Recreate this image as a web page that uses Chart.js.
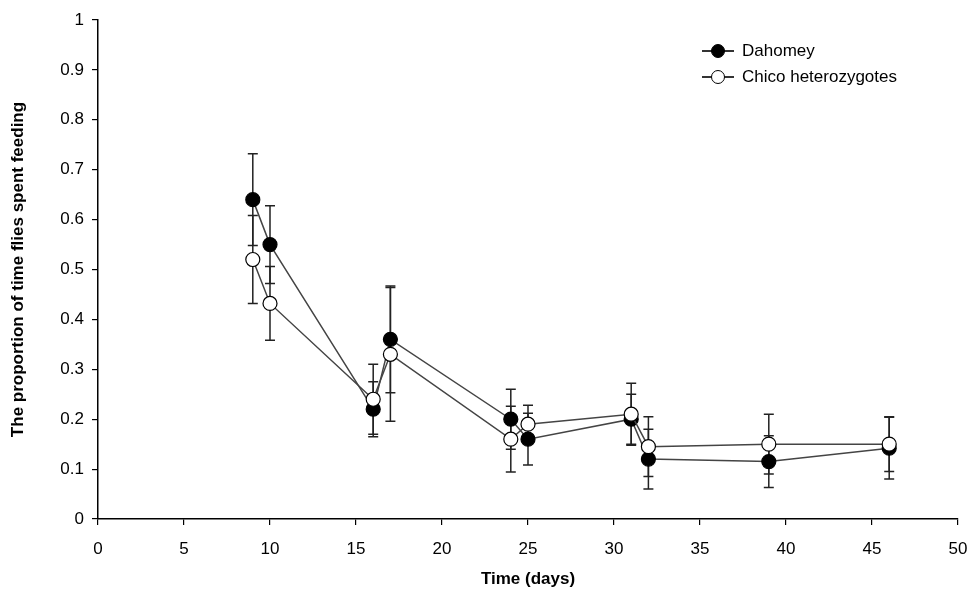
<!DOCTYPE html>
<html><head><meta charset="utf-8">
<script src="https://cdn.jsdelivr.net/npm/chart.js@4/dist/chart.umd.min.js"></script>
<style>
body{margin:0;background:#fff;font-family:Arial,"Liberation Sans",sans-serif}
#wrap{position:relative;width:967px;height:596px}
#legend{position:absolute;left:700px;top:38px;font-size:17px;color:#000;line-height:26px}
.row{display:flex;align-items:center}
.sym{position:relative;width:36px;height:20px;margin-right:6px}
.sym i{position:absolute;left:2px;right:2px;top:9px;height:1.5px;background:#333}
.sym b{position:absolute;left:11px;top:3px;width:12px;height:12px;border-radius:50%;border:1.3px solid #000}
</style></head><body>
<div id="wrap"><canvas id="c" width="967" height="596"></canvas>
<div id="legend">
<div class="row"><span class="sym"><i></i><b style="background:#000"></b></span>Dahomey</div>
<div class="row"><span class="sym"><i></i><b style="background:#fff"></b></span>Chico heterozygotes</div>
</div></div>
<script>
const days = [9, 10, 16, 17, 24, 25, 31, 32, 39, 46];
const dahomey = [0.64, 0.55, 0.22, 0.36, 0.20, 0.16, 0.20, 0.12, 0.115, 0.142];
const dahomeyErr = [0.092, 0.078, 0.055, 0.107, 0.06, 0.052, 0.05, 0.06, 0.052, 0.062];
const chico = [0.52, 0.432, 0.24, 0.33, 0.16, 0.19, 0.21, 0.145, 0.15, 0.15];
const chicoErr = [0.088, 0.074, 0.07, 0.134, 0.066, 0.038, 0.062, 0.06, 0.06, 0.055];

const errorBars = {
  id: 'errorBars',
  beforeDatasetsDraw(chart) {
    const {ctx, scales: {x, y}} = chart;
    const sets = [[dahomey, dahomeyErr], [chico, chicoErr]];
    ctx.save();
    ctx.strokeStyle = '#222';
    ctx.lineWidth = 1.5;
    sets.forEach(([vals, errs]) => {
      vals.forEach((v, i) => {
        const px = x.getPixelForValue(days[i]);
        const top = y.getPixelForValue(v + errs[i]);
        const bot = y.getPixelForValue(v - errs[i]);
        ctx.beginPath();
        ctx.moveTo(px, top); ctx.lineTo(px, bot);
        ctx.moveTo(px - 5, top); ctx.lineTo(px + 5, top);
        ctx.moveTo(px - 5, bot); ctx.lineTo(px + 5, bot);
        ctx.stroke();
      });
    });
    ctx.restore();
  }
};

const tickGrid = {display: true, drawOnChartArea: false, drawTicks: true, tickLength: 6, color: '#000', lineWidth: 1.2};

new Chart(document.getElementById('c'), {
  type: 'scatter',
  data: {
    datasets: [
      {
        label: 'Dahomey', order: 1,
        data: days.map((d, i) => ({x: d, y: dahomey[i]})),
        showLine: true, borderColor: '#444', borderWidth: 1.5,
        pointRadius: 7, pointBackgroundColor: '#000', pointBorderColor: '#000', pointBorderWidth: 1.2
      },
      {
        label: 'Chico heterozygotes', order: 0,
        data: days.map((d, i) => ({x: d, y: chico[i]})),
        showLine: true, borderColor: '#444', borderWidth: 1.5,
        pointRadius: 7, pointBackgroundColor: '#fff', pointBorderColor: '#000', pointBorderWidth: 1.2
      }
    ]
  },
  options: {
    responsive: false,
    animation: false,
    layout: {padding: {top: 20, right: 9, left: 4, bottom: 0}},
    plugins: {legend: {display: false}, tooltip: {enabled: false}},
    scales: {
      x: {
        min: 0, max: 50,
        afterFit(s) { s.height = 77; s.paddingRight = 0; s.paddingLeft = 0; },
        grid: tickGrid,
        border: {color: '#000', width: 1.5},
        ticks: {stepSize: 5, color: '#000', font: {size: 17}, padding: 14},
        title: {display: true, text: 'Time (days)', color: '#000', font: {size: 17, weight: 'bold'}, padding: {top: 2, bottom: 6}}
      },
      y: {
        min: 0, max: 1,
        afterFit(s) { s.width = 94; },
        grid: tickGrid,
        border: {color: '#000', width: 1.5},
        ticks: {stepSize: 0.1, color: '#000', font: {size: 17}, padding: 8, callback: v => Math.round(v * 10) / 10},
        title: {display: true, text: 'The proportion of time flies spent feeding', color: '#000', font: {size: 17, weight: 'bold'}}
      }
    }
  },
  plugins: [errorBars]
});
</script></body></html>
